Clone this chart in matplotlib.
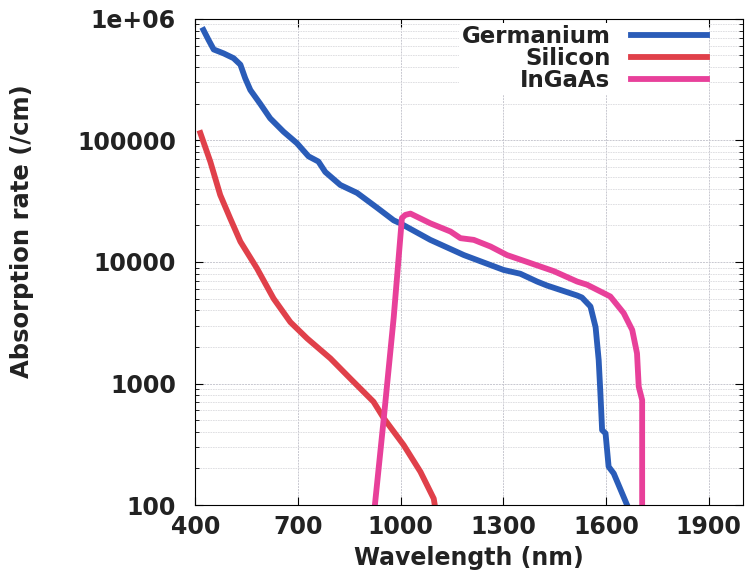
import numpy as np
import matplotlib.pyplot as plt
from matplotlib.ticker import FixedLocator, LogLocator, NullFormatter

ge_nm = [424, 439, 454, 483, 512, 532, 546, 561, 590, 619, 658, 697, 731, 760,
         780, 824, 873, 931, 980, 999, 1087, 1185, 1301, 1350, 1399, 1428, 1516,
         1530, 1555, 1570, 1579, 1584, 1589, 1599, 1608, 1623, 1662]
ge_abs = [8.1e5, 6.7e5, 5.6e5, 5.2e5, 4.75e5, 4.2e5, 3.25e5, 2.6e5, 2.0e5, 1.52e5,
          1.18e5, 9.5e4, 7.4e4, 6.7e4, 5.5e4, 4.3e4, 3.7e4, 2.8e4, 2.2e4, 2.08e4,
          1.52e4, 1.14e4, 8.6e3, 8.0e3, 6.9e3, 6.4e3, 5.3e3, 5.1e3, 4.3e3, 2.9e3,
          1.56e3, 830, 414, 389, 207, 182, 100]

si_nm = [415, 444, 473, 502, 532, 580, 629, 678, 727, 795, 853, 921, 951, 1009,
         1058, 1097, 1100]
si_abs = [1.15e5, 6.7e4, 3.56e4, 2.29e4, 1.47e4, 8.9e3, 5.0e3, 3.2e3, 2.35e3,
          1.61e3, 1.1e3, 708, 518, 312, 188, 113, 100]

ingaas_nm = [925, 951, 980, 1004, 1014, 1029, 1087, 1146, 1175, 1214, 1263, 1311,
             1370, 1448, 1516, 1545, 1613, 1652, 1677, 1691, 1696, 1706, 1706]
ingaas_abs = [100, 518, 3.5e3, 2.3e4, 2.44e4, 2.5e4, 2.08e4, 1.78e4, 1.57e4, 1.52e4,
              1.34e4, 1.14e4, 1.0e4, 8.4e3, 6.9e3, 6.5e3, 5.2e3, 3.8e3, 2.76e3,
              1.77e3, 943, 731, 100]

xticks = [400, 700, 1000, 1300, 1600, 1900]
yticks = [100, 1000, 10000, 100000, 1000000]
ylabels = ['100', '1000', '10000', '100000', '1e+06']

plt.rcParams['font.family'] = 'DejaVu Sans'
plt.rcParams['font.weight'] = 'bold'

fig = plt.figure(figsize=(7.48, 5.72), dpi=100)
ax = fig.add_axes([0.261, 0.117, 0.732, 0.850])

ax.plot(ge_nm, ge_abs, color='#2a5cb8', lw=4.2, label='Germanium')
ax.plot(si_nm, si_abs, color='#e0404a', lw=4.2, label='Silicon')
ax.plot(ingaas_nm, ingaas_abs, color='#e8409a', lw=4.2, label='InGaAs')

ax.set_yscale('log')
ax.set_xlim(400, 2000)
ax.set_ylim(100, 1e6)
ax.xaxis.set_major_locator(FixedLocator(xticks))
ax.set_xticklabels([str(t) for t in xticks])
ax.yaxis.set_major_locator(FixedLocator(yticks))
ax.set_yticklabels(ylabels)
ax.yaxis.set_minor_locator(LogLocator(base=10, subs=np.arange(2, 10)))
ax.yaxis.set_minor_formatter(NullFormatter())

ax.tick_params(which='both', direction='in', top=True, right=True,
               labelsize=17, labelcolor='#222222')
ax.tick_params(axis='y', pad=14)
ax.tick_params(axis='x', pad=7)
ax.tick_params(which='major', length=6)
ax.tick_params(which='minor', length=3)
ax.grid(which='major', color='#c8c8d0', lw=0.7, ls=(0, (2, 1)))
ax.grid(which='minor', axis='y', color='#dadade', lw=0.6, ls=(0, (2, 1)))

ax.set_xlabel('Wavelength (nm)', fontsize=17, fontweight='bold', color='#222222')
ax.xaxis.set_label_coords(0.5, -0.085)
ax.set_ylabel('Absorption rate (/cm)', fontsize=17.5, fontweight='bold', color='#222222')
ax.yaxis.set_label_coords(-0.294, 0.564)

leg = ax.legend(loc='upper right', bbox_to_anchor=(0.938, 0.992), fontsize=16.5,
                markerfirst=False, frameon=True, handlelength=3.3, labelspacing=-0.04,
                borderaxespad=0.0, handletextpad=0.9, borderpad=0.1)
leg.get_frame().set_edgecolor('none')
leg.get_frame().set_facecolor('white')
leg.get_frame().set_alpha(1)
for t in leg.get_texts():
    t.set_color('#222222')

fig.savefig('out.png', dpi=100)
